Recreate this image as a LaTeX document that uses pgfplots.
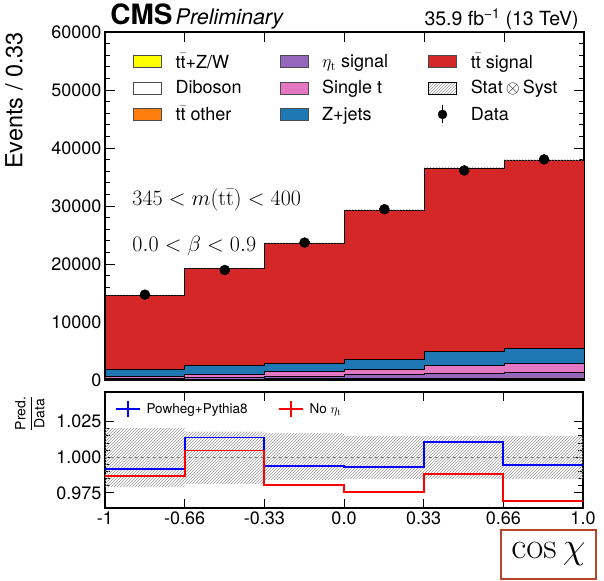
\RequirePackage{fix-cm}
\documentclass[border=0pt]{standalone}
\usepackage[no-math]{fontspec}
\setmainfont{TeX Gyre Heros}
\setsansfont{TeX Gyre Heros}
\usepackage{amsmath}
\usepackage{pgfplots}
\pgfplotsset{compat=1.18}
\usetikzlibrary{patterns}

\definecolor{cyel}{HTML}{FFFF00}
\definecolor{corange}{HTML}{FF7F0E}
\definecolor{cpurple}{HTML}{9467BD}
\definecolor{cpink}{HTML}{E377C2}
\definecolor{cblue}{HTML}{1F77B4}
\definecolor{cred}{HTML}{D62728}
\definecolor{boxc}{HTML}{B5452A}

\pgfplotsset{
  sw/.style={legend image code/.code={\draw[fill=#1, draw=black!70, line width=0.6pt] (0pt,-6pt) rectangle (28pt,6pt);}},
  stk/.style={const plot, fill=#1, draw=black, line width=0.8pt, forget plot},
  rootframe/.style={
    scale only axis,
    axis line style={line width=1.2pt},
    tick align=inside,
    xtick pos=both, ytick pos=both,
    every tick/.style={black, line width=0.7pt},
    /pgf/number format/assume math mode=true,
    tick label style={font=\fontsize{18}{20}\selectfont},
  },
}

\begin{document}
\begin{tikzpicture}
\useasboundingbox (0,0) rectangle (604pt,580pt);

% ---------------- main panel ----------------
\begin{axis}[rootframe,
  at={(105pt,200pt)}, anchor=south west,
  width=479pt, height=348pt,
  clip=false,
  xmin=-1, xmax=1, ymin=0, ymax=60000,
  xtick={-1,-0.6667,-0.3333,0,0.3333,0.6667,1}, xticklabels={},
  minor x tick num=5,
  ytick={0,10000,20000,30000,40000,50000,60000},
  minor y tick num=4,
  scaled y ticks=false,
  yticklabel style={/pgf/number format/1000 sep={}},
  major tick length=10pt, minor tick length=5pt,
  ylabel={Events / 0.33},
  every axis y label/.style={at={(rel axis cs:-0.19,1.01)}, rotate=90, anchor=east,
    font=\fontsize{23.5}{25}\selectfont},
  legend columns=3,
  legend cell align=left,
  legend style={at={(rel axis cs:0.058,0.944)}, anchor=north west, draw=none, fill=none,
    inner sep=0pt, row sep=7pt, font=\fontsize{18}{20}\selectfont,
    /tikz/every odd column/.append style={column sep=12pt},
    /tikz/column 2/.append style={column sep=36pt},
    /tikz/column 4/.append style={column sep=38pt}},
]
% cumulative stack tops, bins of width 1/3 in cos chi
\addplot[stk=cred] coordinates {(-1,14594) (-0.6667,19226) (-0.3333,23554) (0,29241) (0.3333,36514) (0.6667,37818) (1,37818)} \closedcycle;
\addplot[stk=cblue] coordinates {(-1,1750) (-0.6667,2470) (-0.3333,2800) (0,3490) (0.3333,4920) (0.6667,5390) (1,5390)} \closedcycle;
\addplot[stk=cpink] coordinates {(-1,680) (-0.6667,1000) (-0.3333,1410) (0,1870) (0.3333,2500) (0.6667,2780) (1,2780)} \closedcycle;
\addplot[stk=cpurple] coordinates {(-1,350) (-0.6667,480) (-0.3333,650) (0,900) (0.3333,1200) (0.6667,1330) (1,1330)} \closedcycle;
\addplot[stk=corange] coordinates {(-1,150) (-0.6667,170) (-0.3333,220) (0,260) (0.3333,330) (0.6667,350) (1,350)} \closedcycle;
\addplot[stk=white] coordinates {(-1,40) (-0.6667,45) (-0.3333,55) (0,65) (0.3333,75) (0.6667,80) (1,80)} \closedcycle;
\addplot[stk=cyel] coordinates {(-1,20) (-0.6667,25) (-0.3333,30) (0,35) (0.3333,40) (0.6667,40) (1,40)} \closedcycle;

% stat (x) syst band on the total (upper edge, then lower edge back)
\addplot[pattern=north east lines, pattern color=gray!80, draw=none, forget plot] coordinates {
  (-1,14680) (-0.6667,14680) (-0.6667,19340) (-0.3333,19340) (-0.3333,23700) (0,23700)
  (0,29420) (0.3333,29420) (0.3333,36730) (0.6667,36730) (0.6667,38050) (1,38050)
  (1,37818) (0.6667,37818) (0.6667,36514) (0.3333,36514) (0.3333,29241) (0,29241)
  (0,23554) (-0.3333,23554) (-0.3333,19226) (-0.6667,19226) (-0.6667,14594) (-1,14594)} -- cycle;

% data
\addplot[only marks, mark=*, mark size=5pt, black, forget plot,
  error bars/.cd, y dir=both, y explicit, error bar style={line width=1.2pt}]
  coordinates {(-0.8333,14715) +- (0,121) (-0.5,18964) +- (0,138) (-0.1667,23696) +- (0,154)
               (0.1667,29447) +- (0,172) (0.5,36131) +- (0,190) (0.8333,38031) +- (0,195)};

% legend, filled row by row
\addlegendimage{sw=cyel}\addlegendentry{t$\bar{\text{t}}$+Z/W}
\addlegendimage{sw=cpurple}\addlegendentry{$\eta_{\mathrm{t}}$ signal}
\addlegendimage{sw=cred}\addlegendentry{t$\bar{\text{t}}$ signal}
\addlegendimage{sw=white}\addlegendentry{Diboson}
\addlegendimage{sw=cpink}\addlegendentry{Single t}
\addlegendimage{legend image code/.code={\fill[pattern=north east lines, pattern color=gray!80] (0pt,-6pt) rectangle (28pt,6pt);}}
\addlegendentry{Stat$\,\otimes\,$Syst}
\addlegendimage{sw=corange}\addlegendentry{t$\bar{\text{t}}$ other}
\addlegendimage{sw=cblue}\addlegendentry{Z+jets}
\addlegendimage{legend image code/.code={\draw[black, line width=1.5pt] (14pt,-9pt)--(14pt,9pt); \fill[black] (14pt,0pt) circle (4.5pt);}}
\addlegendentry{Data}

\node[anchor=base west, yshift=7pt] at (rel axis cs:0.004,1)
  {{\fontsize{28}{30}\selectfont\bfseries CMS}\hspace{3pt}{\fontsize{21.5}{23}\selectfont\itshape Preliminary}};
\node[anchor=base east, yshift=6pt, font=\fontsize{19.5}{22}\selectfont] at (rel axis cs:0.996,1)
  {35.9 fb\textsuperscript{−1} (13 TeV)};
\node[anchor=base west, font=\fontsize{22}{25}\selectfont] at (rel axis cs:0.05,0.501)
  {$345 < m(\mathrm{t\bar{t}}) < 400$};
\node[anchor=base west, font=\fontsize{22}{25}\selectfont] at (rel axis cs:0.05,0.369)
  {$0.0 < \beta < 0.9$};
\end{axis}

% ---------------- ratio panel ----------------
\begin{axis}[rootframe,
  at={(105pt,72pt)}, anchor=south west,
  width=478pt, height=116pt,
  xmin=-1, xmax=1, ymin=0.9643, ymax=1.0458,
  xtick={-1,-0.6667,-0.3333,0,0.3333,0.6667,1},
  xticklabels={-1,-0.66,-0.33,0.0,0.33,0.66,1.0},
  minor x tick num=5,
  ytick={0.975,1,1.025}, yticklabels={0.975,1.000,1.025},
  minor y tick num=4,
  major tick length=9pt, minor tick length=5pt,
  ylabel={$\dfrac{\text{Pred.}}{\text{Data}}$},
  every axis y label/.style={at={(rel axis cs:-0.157,1.0)}, rotate=90, anchor=east,
    font=\fontsize{14}{16}\selectfont},
  xlabel={$\cos\chi$},
  every axis x label/.style={at={(rel axis cs:1.029,-0.181)}, anchor=north east,
    draw=boxc, line width=2pt, fill=white, minimum width=95pt, minimum height=49pt,
    inner sep=0pt, font=\fontsize{37}{40}\selectfont},
  legend columns=2,
  legend cell align=left,
  legend style={at={(rel axis cs:0.02,0.93)}, anchor=north west, draw=none, fill=none,
    inner sep=0pt, font=\fontsize{13.5}{15}\selectfont,
    /tikz/every odd column/.append style={column sep=4pt},
    /tikz/every even column/.append style={column sep=28pt}},
  legend image code/.code={\draw[#1] (0pt,0pt)--(24pt,0pt); \draw[#1] (12pt,-8pt)--(12pt,8pt);},
]
\addplot[pattern=north east lines, pattern color=gray!80, draw=none, forget plot] coordinates {
  (-1,1.0204) (-0.6667,1.0204) (-0.6667,1.0180) (-0.3333,1.0180) (-0.3333,1.0169) (0,1.0169)
  (0,1.0150) (1,1.0150) (1,0.9845) (0.6667,0.9845) (0.6667,0.9850) (0.3333,0.9850)
  (0.3333,0.9847) (0,0.9847) (0,0.9840) (-0.3333,0.9840) (-0.3333,0.9812) (-0.6667,0.9812)
  (-0.6667,0.9790) (-1,0.9790)} -- cycle;
\addplot[gray, dashed, line width=0.8pt, forget plot] coordinates {(-1,1) (1,1)};

\addplot[const plot, blue, line width=1.8pt] coordinates {(-1,0.9918) (-0.6667,1.0138) (-0.3333,0.9939) (0,0.9930) (0.3333,1.0106) (0.6667,0.9944) (1,0.9944)};
\addlegendentry{Powheg+Pythia8}
\addplot[const plot, red, line width=1.8pt] coordinates {(-1,0.9866) (-0.6667,1.0047) (-0.3333,0.9803) (0,0.9754) (0.3333,0.9882) (0.6667,0.9694) (1,0.9694)};
\addlegendentry{No $\eta_{\mathrm{t}}$}
\end{axis}
\end{tikzpicture}
\end{document}
